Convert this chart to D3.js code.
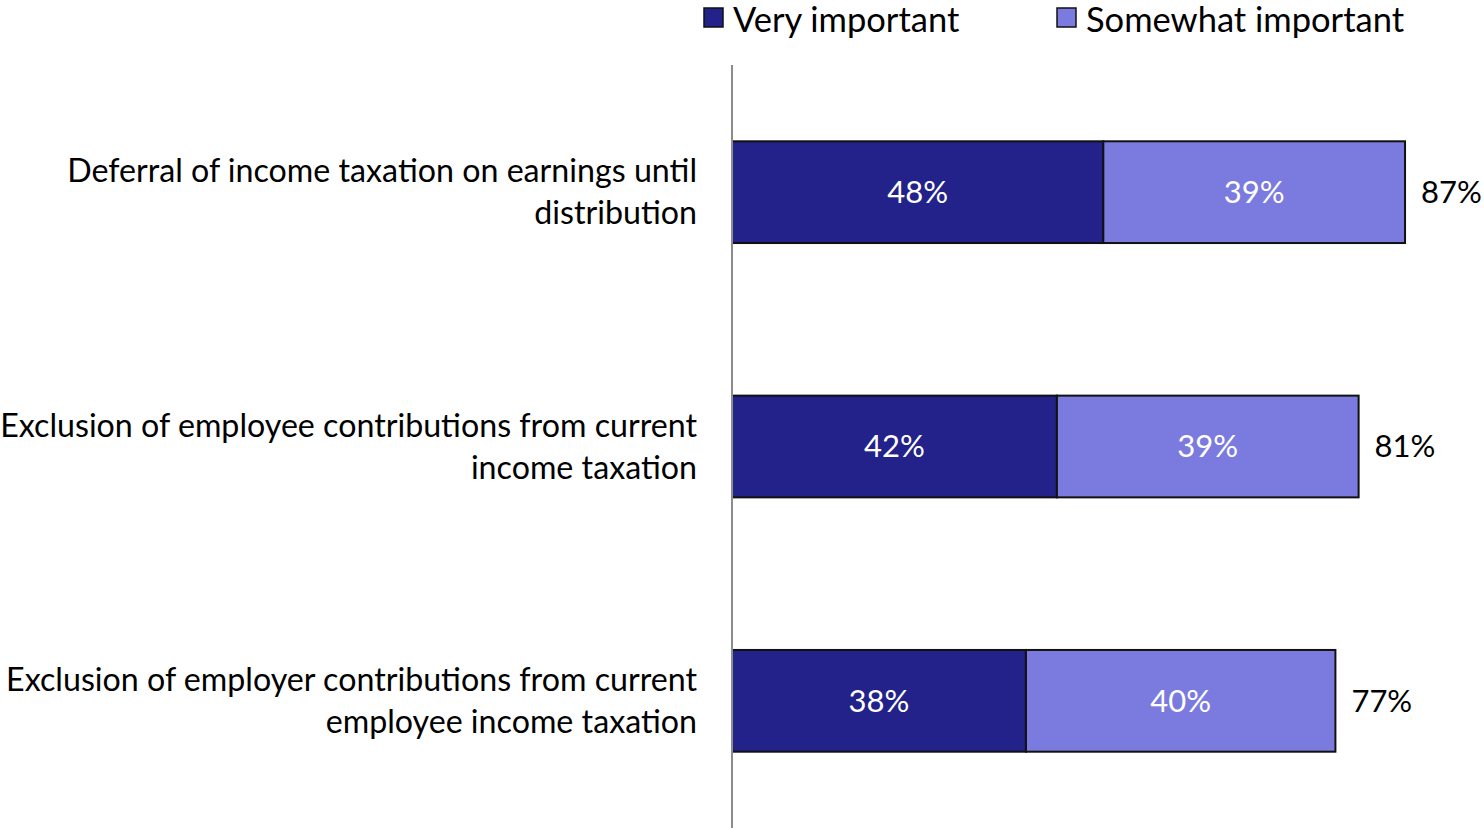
<!DOCTYPE html>
<html>
<head>
<meta charset="utf-8">
<script src="https://cdn.jsdelivr.net/npm/d3@7"></script>
<style>
  html, body { margin: 0; padding: 0; background: #fff; }
  svg { display: block; }
  text { font-family: Lato, "Open Sans", sans-serif; }
</style>
</head>
<body>
<svg id="chart" width="1484" height="828"></svg>
<script>
const categories = [
  ["Deferral of income taxation on earnings until", "distribution"],
  ["Exclusion of employee contributions from current", "income taxation"],
  ["Exclusion of employer contributions from current", "employee income taxation"]
];
const seriesNames = ["Very important", "Somewhat important"];
const veryImportant = [48, 42, 38];
const somewhatImportant = [39, 39, 40];
const totalLabels = [87, 81, 77];
const colors = ["#22228A", "#7B7BDF"];

const svg = d3.select("#chart");
const W = 1484, H = 828;
const margin = { left: 732, top: 65, right: 0, bottom: 0 };

const x = d3.scaleLinear().domain([0, 100]).range([margin.left, margin.left + 773.6]);
const y = d3.scaleBand().domain(d3.range(categories.length)).range([margin.top, H]).paddingInner(0.6).paddingOuter(0.3);

const rows = categories.map((c, i) => ({ i, c, v: [veryImportant[i], somewhatImportant[i]], total: totalLabels[i] }));

// bars
rows.forEach(r => {
  let start = 0;
  r.v.forEach((val, s) => {
    svg.append("rect")
      .attr("x", x(start))
      .attr("y", y(r.i))
      .attr("width", x(start + val) - x(start))
      .attr("height", y.bandwidth())
      .attr("fill", colors[s])
      .attr("stroke", "#111")
      .attr("stroke-width", 2);
    svg.append("text")
      .attr("x", (x(start) + x(start + val)) / 2)
      .attr("y", y(r.i) + y.bandwidth() / 2)
      .attr("dy", "0.35em")
      .attr("text-anchor", "middle")
      .attr("fill", "#fff")
      .attr("font-size", 31)
      .text(val + "%");
    start += val;
  });
  svg.append("text")
    .attr("x", x(start) + 16)
    .attr("y", y(r.i) + y.bandwidth() / 2)
    .attr("dy", "0.35em")
    .attr("fill", "#000")
    .attr("font-size", 31)
    .text(r.total + "%");

  // category label
  const t = svg.append("text")
    .attr("text-anchor", "end")
    .attr("fill", "#000")
    .attr("font-size", 32.2);
  r.c.forEach((line, k) => {
    t.append("tspan")
      .attr("x", 697)
      .attr("y", y(r.i) + y.bandwidth() / 2 + (k - (r.c.length - 1) / 2) * 42)
      .attr("dy", "0.35em")
      .text(line);
  });
});

// vertical axis line
svg.append("line")
  .attr("x1", margin.left).attr("x2", margin.left)
  .attr("y1", margin.top).attr("y2", H)
  .attr("stroke", "#8c8c8c").attr("stroke-width", 2);

// legend
const legendX = [704, 1057];
seriesNames.forEach((name, s) => {
  svg.append("rect")
    .attr("x", legendX[s]).attr("y", 8)
    .attr("width", 19).attr("height", 19)
    .attr("fill", colors[s])
    .attr("stroke", "#111").attr("stroke-width", 1.5);
  svg.append("text")
    .attr("x", legendX[s] + 29)
    .attr("y", 32)
    .attr("font-size", 34.5)
    .attr("fill", "#000")
    .text(name);
});
</script>
</body>
</html>
